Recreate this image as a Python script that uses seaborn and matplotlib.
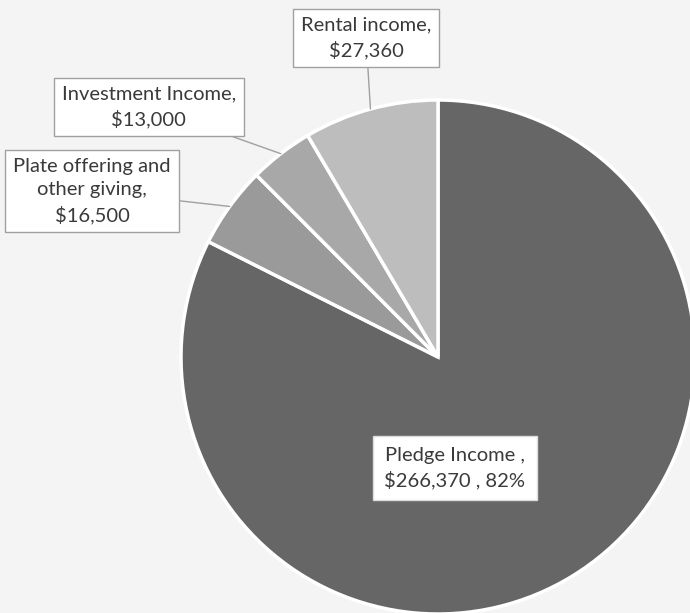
import seaborn as sns
import matplotlib.pyplot as plt
import numpy as np

# Income categories (clockwise from 12 o'clock)
categories = ["Pledge Income", "Plate offering and\nother giving", "Investment Income", "Rental income"]
amounts = [266370, 16500, 13000, 27360]
label_texts = [
    "Pledge Income ,\n$266,370 , 82%",
    "Plate offering and\nother giving,\n$16,500",
    "Investment Income,\n$13,000",
    "Rental income,\n$27,360",
]
colors = ["#666666", "#9a9a9a", "#a8a8a8", "#bdbdbd"]

sns.set_theme(style="white")
plt.rcParams["font.family"] = ["Lato", "DejaVu Sans"]

fig = plt.figure(figsize=(6.9, 6.13), dpi=100)
fig.patch.set_facecolor("#f4f4f4")
ax = fig.add_axes([0, 0, 1, 1])
ax.set_facecolor("#f4f4f4")

wedges, _ = ax.pie(
    amounts, colors=colors, startangle=90, counterclock=False,
    radius=1, center=(0, 0),
    wedgeprops={"edgecolor": "white", "linewidth": 2.5},
)

# pixel layout: centre at (438, 357), radius 257 px
ax.set_xlim(-438 / 257, (690 - 438) / 257)
ax.set_ylim(-(613 - 357) / 257, 357 / 257)
ax.set_aspect("equal")
ax.axis("off")

# label box positions (data coords)
text_pos = [(0.066, -0.432), (-1.346, 0.646), (-1.125, 0.973), (-0.280, 1.241)]

for w, txt, pos, i in zip(wedges, label_texts, text_pos, range(4)):
    mid = np.deg2rad((w.theta1 + w.theta2) / 2)
    xy = (np.cos(mid), np.sin(mid))
    if i == 0:
        ax.text(pos[0], pos[1], txt, ha="center", va="center", fontsize=14.5,
                color="#3a3a3a", linespacing=1.45,
                bbox=dict(boxstyle="square,pad=0.55", fc="white", ec="#dddddd", lw=1))
    else:
        ax.annotate(txt, xy=xy, xytext=pos, ha="center", va="center", fontsize=14.5,
                    color="#3a3a3a", linespacing=1.45,
                    bbox=dict(boxstyle="square,pad=0.4", fc="white", ec="#a0a0a0", lw=1),
                    arrowprops=dict(arrowstyle="-", color="#a0a0a0", lw=1,
                                    shrinkA=0, shrinkB=0))

fig.savefig("out.png", dpi=100, facecolor=fig.get_facecolor())
